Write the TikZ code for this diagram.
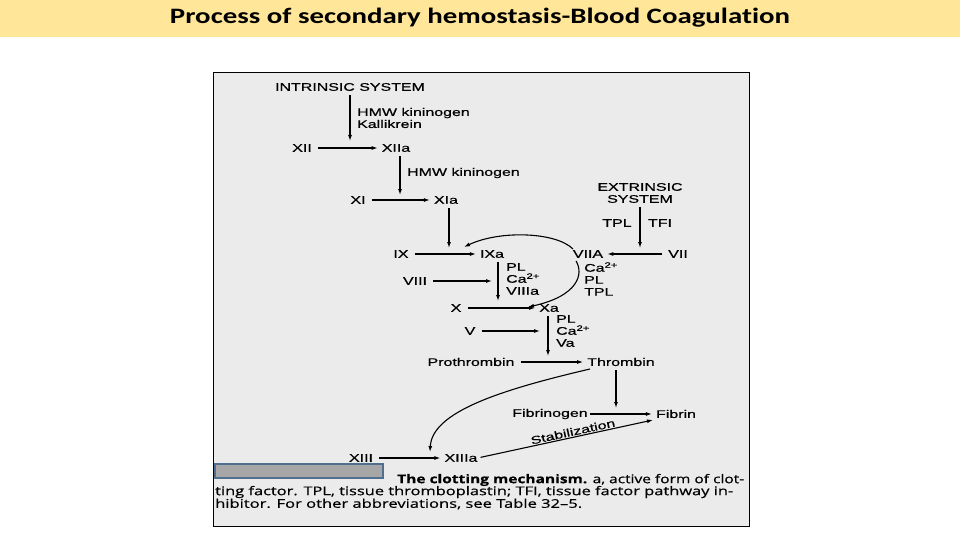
\documentclass[tikz,border=0pt]{standalone}
\usepackage{fontspec}
\usepackage{graphicx}
\usetikzlibrary{arrows.meta}
\newfontfamily\dgfont[FakeStretch=1.45,FakeBold=0.7]{Liberation Sans}
\newfontfamily\capfont[FakeBold=0.5]{Open Sans}
\newfontfamily\titfont[Ligatures=NoCommon]{Carlito}
\newcommand\fitw[2]{\resizebox{#1}{\height}{#2}}
\definecolor{band}{HTML}{FFE699}
\definecolor{figbg}{HTML}{EBEBEB}
\definecolor{maskfill}{HTML}{A6A6A6}
\definecolor{maskedge}{HTML}{4F6F8F}
\tikzset{
  lbl/.style={inner sep=0pt, font=\dgfont\fontsize{11}{12}\selectfont, text=black},
  stk/.style={lbl, align=left, anchor=west},
  arr/.style={draw=black, line width=1.1pt, -{Latex[length=6pt,width=4pt]}},
  hr/.style={arr, shorten <=6pt, shorten >=4pt},
  vr/.style={arr, shorten <=4pt},
  captxt/.style={inner sep=0pt, anchor=west, font=\capfont\fontsize{12}{13}\selectfont},
}
\begin{document}
\begin{tikzpicture}[x=1pt,y=-1pt]
\useasboundingbox (0,0) rectangle (960,540);
\fill[white] (0,0) rectangle (960,540);
% title band
\fill[band] (0,0) rectangle (960,37);
\node[inner sep=0pt, font=\titfont\bfseries\fontsize{22}{24}\selectfont] (title) at (480,18) {\fitw{620pt}{Process of secondary hemostasis-Blood Coagulation}};
% figure frame
\draw[fill=figbg, line width=1pt] (213,73) rectangle (749,526);

% intrinsic
\node[lbl] (intr) at (350,87) {INTRINSIC SYSTEM};
\coordinate (a1) at (350,141);
\draw[vr] (intr.south -| a1) -- (a1);
\node[stk] (lab1) at (357,118) {HMW kininogen\\Kallikrein};
\node[lbl] (XII) at (302,148) {XII};
\node[lbl] (XIIa) at (396,148) {XIIa};
\draw[hr] (XII) -- (XIIa);
\coordinate (a2) at (400,195);
\draw[vr] (XIIa.south -| a2) -- (a2);
\node[stk] (lab2) at (407,173) {HMW kininogen};
\node[lbl] (XI) at (358,200) {XI};
\node[lbl] (XIa) at (446,200) {XIa};
\draw[hr] (XI) -- (XIa);
\coordinate (a3) at (449,248);
\draw[vr] (XIa.south -| a3) -- (a3);

% extrinsic
\node[lbl, align=center] (ext) at (640,193) {EXTRINSIC\\SYSTEM};
\node[lbl] (TPL) at (617,223) {TPL};
\node[lbl] (TFI) at (660,223) {TFI};
\coordinate (a4) at (640,248);
\draw[vr] (ext.south -| a4) -- (a4);

% IX row
\node[lbl] (IX) at (401,254) {IX};
\node[lbl] (IXa) at (492,254) {IXa};
\node[lbl] (VIIA) at (588,254) {VIIA};
\node[lbl] (VII) at (678,254) {VII};
\draw[hr] (IX) -- (IXa);
\draw[hr] (VII) -- (VIIA);
\coordinate (a7) at (464,247);
\coordinate (s7) at (573,249);
\draw[arr] (s7) .. controls (556,232) and (500,230) .. (a7);
\node[stk] (lab3) at (506,279) {PL\\Ca\textsuperscript{2+}\\VIIIa};
\node[stk] (lab4) at (584,279) {Ca\textsuperscript{2+}\\PL\\TPL};
\coordinate (a5) at (498,301);
\draw[vr] (IXa.south -| a5) -- (a5);
\node[lbl] (VIII) at (415,281) {VIII};
\coordinate (a6) at (492,281);
\draw[arr, shorten <=6pt] (VIII) -- (a6);
\coordinate (a8) at (528,307);
\coordinate (s8) at (576,261);
\draw[arr] (s8) .. controls (584,274) and (578,296) .. (a8);

% X row
\node[lbl] (X) at (456,308) {X};
\node[lbl] (Xa) at (549,308) {Xa};
\draw[hr] (X) -- (Xa);
\coordinate (a9) at (548,356);
\draw[vr] (Xa.south -| a9) -- (a9);
\node[stk] (lab5) at (556,331) {PL\\Ca\textsuperscript{2+}\\Va};
\node[lbl] (V) at (470,331) {V};
\coordinate (a10) at (540,331);
\draw[arr, shorten <=6pt] (V) -- (a10);

% thrombin
\node[lbl] (Pro) at (471,362) {Prothrombin};
\node[lbl] (Thr) at (621,362) {Thrombin};
\draw[hr] (Pro) -- (Thr);
\coordinate (a11) at (616,408);
\draw[vr] (Thr.south -| a11) -- (a11);
\node[lbl] (Fbg) at (550,414) {Fibrinogen};
\node[lbl] (Fbn) at (676,414) {Fibrin};
\draw[arr, shorten <=2pt, shorten >=4pt] (Fbg) -- (Fbn);
\coordinate (a12) at (430,452);
\coordinate (s12) at (590,369);
\draw[arr] (s12) .. controls (500,390) and (432,412) .. (a12);

% XIII
\node[lbl] (XIII) at (361,458) {XIII};
\node[lbl] (XIIIa) at (461,458) {XIIIa};
\draw[hr] (XIII) -- (XIIIa);
\coordinate (a13) at (653,420);
\draw[arr, shorten <=3pt] (XIIIa.east) -- (a13)
  node[lbl, pos=0.55, sloped, above=1pt] (stab) {Stabilization};

% mask and caption
\draw[fill=maskfill, draw=maskedge, line width=1.5pt] (215,464) rectangle (383,478);
\node[captxt] (cap1) at (397,480) {\fitw{347pt}{\textbf{The clotting mechanism.} a, active form of clot-}};
\node[captxt] (cap2) at (215,492) {\fitw{518pt}{ting factor. TPL, tissue thromboplastin; TFI, tissue factor pathway in-}};
\node[captxt] (cap3) at (215,504) {\fitw{367pt}{hibitor. For other abbreviations, see Table 32–5.}};
\end{tikzpicture}
\end{document}
